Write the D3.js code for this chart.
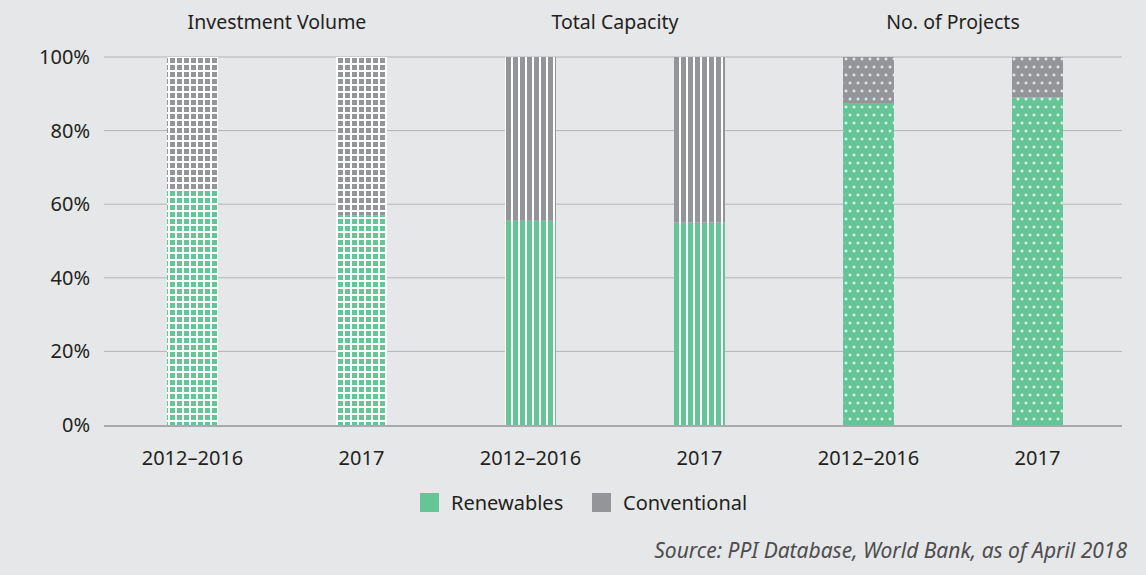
<!DOCTYPE html>
<html>
<head>
<meta charset="utf-8">
<script src="https://cdn.jsdelivr.net/npm/d3@7"></script>
<style>
  html, body { margin: 0; padding: 0; background: #e6e7e8; }
  svg { display: block; font-family: "Noto Sans", "Open Sans", sans-serif; }
</style>
</head>
<body>
<div id="wrapper"></div>
<script>
// data
const groups = ['Investment Volume', 'Total Capacity', 'No. of Projects'];
const periods = ['2012\u20132016', '2017'];
const renewables = [64, 57, 55.5, 55, 87.5, 89];
const yTicks = [0, 20, 40, 60, 80, 100];
const seriesNames = ['Renewables', 'Conventional'];

const green = '#66c597';
const gray = '#939598';
const textCol = '#231f20';

const width = 1146, height = 575;
const margin = { top: 57, right: 24, bottom: 150, left: 108 };

const bars = [];
groups.forEach((g, gi) => periods.forEach((p, pi) => {
    const i = gi * periods.length + pi;
    bars.push({ key: i, group: gi, period: p, ren: renewables[i] });
}));

const svg = d3.select('#wrapper').append('svg')
    .attr('width', width)
    .attr('height', height);

// patterns
const defs = svg.append('defs');
function gridPattern(id, color) {
    const p = defs.append('pattern').attr('id', id)
        .attr('patternUnits', 'userSpaceOnUse')
        .attr('width', 7).attr('height', 7);
    p.append('rect').attr('width', 7).attr('height', 7).attr('fill', '#fff');
    p.append('rect').attr('x', 2).attr('y', 2).attr('width', 5).attr('height', 5).attr('fill', color);
}
function stripePattern(id, color) {
    const p = defs.append('pattern').attr('id', id)
        .attr('patternUnits', 'userSpaceOnUse')
        .attr('width', 7).attr('height', 7);
    p.append('rect').attr('width', 7).attr('height', 7).attr('fill', '#fff');
    p.append('rect').attr('x', 2).attr('width', 5).attr('height', 7).attr('fill', color);
}
function dotPattern(id, color) {
    const p = defs.append('pattern').attr('id', id)
        .attr('patternUnits', 'userSpaceOnUse')
        .attr('width', 8).attr('height', 16);
    p.append('rect').attr('width', 8).attr('height', 16).attr('fill', color);
    [[2, 3], [6, 11]].forEach(([cx, cy]) => {
        p.append('rect').attr('x', cx - 1.5).attr('y', cy - 0.5).attr('width', 3).attr('height', 1).attr('fill', '#fff');
        p.append('rect').attr('x', cx - 0.5).attr('y', cy - 1.5).attr('width', 1).attr('height', 3).attr('fill', '#fff');
    });
}
const makers = [gridPattern, stripePattern, dotPattern];
makers.forEach((m, gi) => {
    m('ren' + gi, green);
    m('con' + gi, gray);
});

const x = d3.scaleBand()
    .domain(bars.map(d => d.key))
    .range([margin.left, width - margin.right]);

const y = d3.scaleLinear()
    .domain([0, 100])
    .range([height - margin.bottom, margin.top]);

// gridlines
svg.append('g')
    .selectAll('line')
    .data(yTicks.filter(t => t > 0))
    .join('line')
    .attr('x1', 104).attr('x2', width - margin.right)
    .attr('y1', d => y(d)).attr('y2', d => y(d))
    .attr('stroke', '#b3b4b6')
    .attr('stroke-width', 1);

// y labels
svg.append('g')
    .selectAll('text')
    .data(yTicks)
    .join('text')
    .attr('x', 90)
    .attr('y', d => y(d))
    .attr('dy', '0.35em')
    .attr('text-anchor', 'end')
    .attr('font-size', 20)
    .attr('fill', textCol)
    .text(d => d + '%');

const barW = 51;
const barG = svg.append('g');
barG.selectAll('.ren')
    .data(bars)
    .join('rect')
    .attr('class', 'ren')
    .attr('x', d => x(d.key) + x.bandwidth() / 2 - barW / 2)
    .attr('width', barW)
    .attr('y', d => y(d.ren))
    .attr('height', d => y(0) - y(d.ren))
    .attr('fill', d => `url(#ren${d.group})`);
barG.selectAll('.con')
    .data(bars)
    .join('rect')
    .attr('class', 'con')
    .attr('x', d => x(d.key) + x.bandwidth() / 2 - barW / 2)
    .attr('width', barW)
    .attr('y', y(100))
    .attr('height', d => y(d.ren) - y(100))
    .attr('fill', d => `url(#con${d.group})`);

// baseline
svg.append('line')
    .attr('x1', 104).attr('x2', width - margin.right)
    .attr('y1', y(0) + 1).attr('y2', y(0) + 1)
    .attr('stroke', '#a7a9ac')
    .attr('stroke-width', 2);

// x labels
svg.append('g')
    .selectAll('text')
    .data(bars)
    .join('text')
    .attr('x', d => x(d.key) + x.bandwidth() / 2)
    .attr('y', 465)
    .attr('text-anchor', 'middle')
    .attr('font-size', 20)
    .attr('fill', textCol)
    .text(d => d.period);

// group titles
svg.append('g')
    .selectAll('text')
    .data(groups)
    .join('text')
    .attr('x', (d, i) => x(i * 2) + x.bandwidth())
    .attr('y', 29)
    .attr('text-anchor', 'middle')
    .attr('font-size', 19.5)
    .attr('fill', textCol)
    .text(d => d);

// legend
const legend = svg.append('g').attr('transform', 'translate(420, 493)');
const legX = [0, 172];
seriesNames.forEach((s, i) => {
    legend.append('rect')
        .attr('x', legX[i]).attr('y', 0)
        .attr('width', 19).attr('height', 19)
        .attr('fill', i === 0 ? green : gray);
    legend.append('text')
        .attr('x', legX[i] + 31).attr('y', 10)
        .attr('dy', '0.35em')
        .attr('font-size', 20)
        .attr('fill', textCol)
        .text(s);
});

// source
svg.append('text')
    .attr('x', 1127)
    .attr('y', 558)
    .attr('text-anchor', 'end')
    .attr('font-size', 21)
    .attr('font-style', 'italic')
    .attr('fill', '#4d4d4f')
    .text('Source: PPI Database, World Bank, as of April 2018');
</script>
</body>
</html>
